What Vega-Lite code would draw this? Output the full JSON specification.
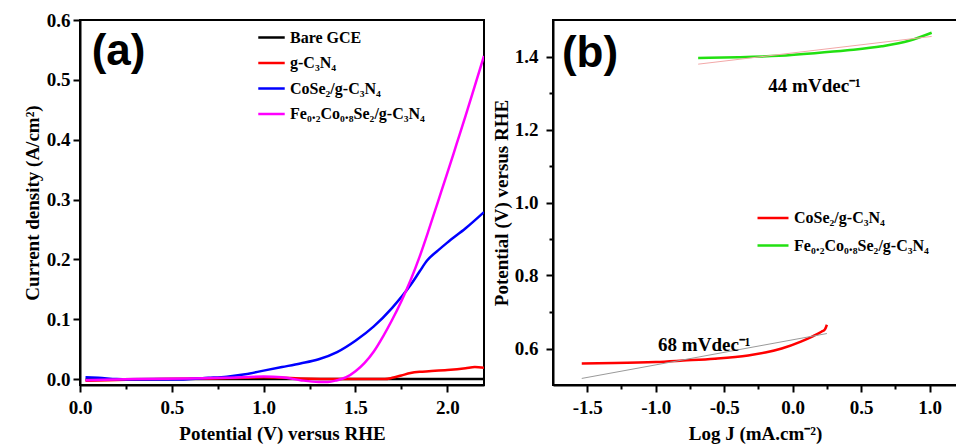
{
  "$schema": "https://vega.github.io/schema/vega-lite/v6.json",
  "background": "white",
  "padding": {"left": 22, "top": 10, "right": 0, "bottom": 4},
  "spacing": 6,
  "resolve": {"scale": {"color": "independent"}, "legend": {"color": "independent"}},
  "config": {
    "locale": {"number": {"decimal": ".", "thousands": ",", "grouping": [3], "currency": ["$", ""], "minus": "-"}},
    "view": {"stroke": "black", "strokeWidth": 2},
    "axis": {
      "grid": false, "domainColor": "black", "domainWidth": 2, "tickColor": "black", "tickWidth": 2,
      "labelFont": "Liberation Serif", "labelFontWeight": "bold", "labelFontSize": 19, "labelColor": "black",
      "labelFlush": false, "labelOverlap": false,
      "titleFont": "Liberation Serif", "titleFontWeight": "bold", "titleFontSize": 19, "titleColor": "black"
    },
    "legend": {
      "orient": "none", "title": null, "symbolType": "stroke", "symbolStrokeWidth": 2.5,
      "labelFont": "Liberation Serif", "labelFontWeight": "bold", "labelFontSize": 16, "labelColor": "black",
      "rowPadding": 2.5, "padding": 0, "labelOffset": 4
    }
  },
  "hconcat": [
    {
      "width": 404, "height": 365,
      "layer": [
        {
          "data": {"values": [
            {"V": 0.03, "J": -0.001, "sample": "Bare GCE"},
            {"V": 0.5, "J": 0.0, "sample": "Bare GCE"},
            {"V": 1.0, "J": 0.0, "sample": "Bare GCE"},
            {"V": 1.5, "J": 0.0, "sample": "Bare GCE"},
            {"V": 2.0, "J": 0.0, "sample": "Bare GCE"},
            {"V": 2.2, "J": 0.0, "sample": "Bare GCE"},
            {"V": 0.03, "J": -0.003, "sample": "g-C₃N₄"},
            {"V": 0.15, "J": -0.002, "sample": "g-C₃N₄"},
            {"V": 0.3, "J": -0.001, "sample": "g-C₃N₄"},
            {"V": 0.5, "J": 0.0, "sample": "g-C₃N₄"},
            {"V": 0.7, "J": 0.001, "sample": "g-C₃N₄"},
            {"V": 0.9, "J": 0.002, "sample": "g-C₃N₄"},
            {"V": 1.0, "J": 0.003, "sample": "g-C₃N₄"},
            {"V": 1.1, "J": 0.002, "sample": "g-C₃N₄"},
            {"V": 1.2, "J": 0.001, "sample": "g-C₃N₄"},
            {"V": 1.4, "J": 0.0, "sample": "g-C₃N₄"},
            {"V": 1.6, "J": 0.0, "sample": "g-C₃N₄"},
            {"V": 1.66, "J": 0.0, "sample": "g-C₃N₄"},
            {"V": 1.7, "J": 0.002, "sample": "g-C₃N₄"},
            {"V": 1.75, "J": 0.006, "sample": "g-C₃N₄"},
            {"V": 1.8, "J": 0.010, "sample": "g-C₃N₄"},
            {"V": 1.85, "J": 0.012, "sample": "g-C₃N₄"},
            {"V": 1.9, "J": 0.013, "sample": "g-C₃N₄"},
            {"V": 2.0, "J": 0.015, "sample": "g-C₃N₄"},
            {"V": 2.1, "J": 0.018, "sample": "g-C₃N₄"},
            {"V": 2.15, "J": 0.020, "sample": "g-C₃N₄"},
            {"V": 2.2, "J": 0.019, "sample": "g-C₃N₄"},
            {"V": 0.03, "J": 0.003, "sample": "CoSe₂/g-C₃N₄"},
            {"V": 0.1, "J": 0.002, "sample": "CoSe₂/g-C₃N₄"},
            {"V": 0.2, "J": 0.0, "sample": "CoSe₂/g-C₃N₄"},
            {"V": 0.3, "J": -0.001, "sample": "CoSe₂/g-C₃N₄"},
            {"V": 0.5, "J": -0.001, "sample": "CoSe₂/g-C₃N₄"},
            {"V": 0.7, "J": 0.002, "sample": "CoSe₂/g-C₃N₄"},
            {"V": 0.8, "J": 0.004, "sample": "CoSe₂/g-C₃N₄"},
            {"V": 0.9, "J": 0.008, "sample": "CoSe₂/g-C₃N₄"},
            {"V": 1.0, "J": 0.014, "sample": "CoSe₂/g-C₃N₄"},
            {"V": 1.1, "J": 0.020, "sample": "CoSe₂/g-C₃N₄"},
            {"V": 1.2, "J": 0.026, "sample": "CoSe₂/g-C₃N₄"},
            {"V": 1.3, "J": 0.033, "sample": "CoSe₂/g-C₃N₄"},
            {"V": 1.4, "J": 0.045, "sample": "CoSe₂/g-C₃N₄"},
            {"V": 1.5, "J": 0.064, "sample": "CoSe₂/g-C₃N₄"},
            {"V": 1.6, "J": 0.088, "sample": "CoSe₂/g-C₃N₄"},
            {"V": 1.7, "J": 0.119, "sample": "CoSe₂/g-C₃N₄"},
            {"V": 1.8, "J": 0.157, "sample": "CoSe₂/g-C₃N₄"},
            {"V": 1.85, "J": 0.180, "sample": "CoSe₂/g-C₃N₄"},
            {"V": 1.89, "J": 0.198, "sample": "CoSe₂/g-C₃N₄"},
            {"V": 1.95, "J": 0.215, "sample": "CoSe₂/g-C₃N₄"},
            {"V": 2.0, "J": 0.228, "sample": "CoSe₂/g-C₃N₄"},
            {"V": 2.1, "J": 0.252, "sample": "CoSe₂/g-C₃N₄"},
            {"V": 2.2, "J": 0.279, "sample": "CoSe₂/g-C₃N₄"},
            {"V": 0.03, "J": -0.002, "sample": "Fe₀.₂Co₀.₈Se₂/g-C₃N₄"},
            {"V": 0.3, "J": 0.0, "sample": "Fe₀.₂Co₀.₈Se₂/g-C₃N₄"},
            {"V": 0.6, "J": 0.001, "sample": "Fe₀.₂Co₀.₈Se₂/g-C₃N₄"},
            {"V": 0.8, "J": 0.002, "sample": "Fe₀.₂Co₀.₈Se₂/g-C₃N₄"},
            {"V": 1.0, "J": 0.004, "sample": "Fe₀.₂Co₀.₈Se₂/g-C₃N₄"},
            {"V": 1.1, "J": 0.003, "sample": "Fe₀.₂Co₀.₈Se₂/g-C₃N₄"},
            {"V": 1.2, "J": -0.002, "sample": "Fe₀.₂Co₀.₈Se₂/g-C₃N₄"},
            {"V": 1.3, "J": -0.005, "sample": "Fe₀.₂Co₀.₈Se₂/g-C₃N₄"},
            {"V": 1.35, "J": -0.005, "sample": "Fe₀.₂Co₀.₈Se₂/g-C₃N₄"},
            {"V": 1.4, "J": -0.002, "sample": "Fe₀.₂Co₀.₈Se₂/g-C₃N₄"},
            {"V": 1.45, "J": 0.003, "sample": "Fe₀.₂Co₀.₈Se₂/g-C₃N₄"},
            {"V": 1.5, "J": 0.013, "sample": "Fe₀.₂Co₀.₈Se₂/g-C₃N₄"},
            {"V": 1.55, "J": 0.027, "sample": "Fe₀.₂Co₀.₈Se₂/g-C₃N₄"},
            {"V": 1.6, "J": 0.046, "sample": "Fe₀.₂Co₀.₈Se₂/g-C₃N₄"},
            {"V": 1.65, "J": 0.071, "sample": "Fe₀.₂Co₀.₈Se₂/g-C₃N₄"},
            {"V": 1.7, "J": 0.099, "sample": "Fe₀.₂Co₀.₈Se₂/g-C₃N₄"},
            {"V": 1.75, "J": 0.130, "sample": "Fe₀.₂Co₀.₈Se₂/g-C₃N₄"},
            {"V": 1.8, "J": 0.165, "sample": "Fe₀.₂Co₀.₈Se₂/g-C₃N₄"},
            {"V": 1.85, "J": 0.205, "sample": "Fe₀.₂Co₀.₈Se₂/g-C₃N₄"},
            {"V": 1.9, "J": 0.250, "sample": "Fe₀.₂Co₀.₈Se₂/g-C₃N₄"},
            {"V": 1.95, "J": 0.297, "sample": "Fe₀.₂Co₀.₈Se₂/g-C₃N₄"},
            {"V": 2.0, "J": 0.344, "sample": "Fe₀.₂Co₀.₈Se₂/g-C₃N₄"},
            {"V": 2.05, "J": 0.392, "sample": "Fe₀.₂Co₀.₈Se₂/g-C₃N₄"},
            {"V": 2.1, "J": 0.440, "sample": "Fe₀.₂Co₀.₈Se₂/g-C₃N₄"},
            {"V": 2.15, "J": 0.490, "sample": "Fe₀.₂Co₀.₈Se₂/g-C₃N₄"},
            {"V": 2.2, "J": 0.540, "sample": "Fe₀.₂Co₀.₈Se₂/g-C₃N₄"}
          ]},
          "mark": {"type": "line", "strokeWidth": 2.5, "clip": true, "interpolate": "monotone"},
          "encoding": {
            "x": {"field": "V", "type": "quantitative", "scale": {"domain": [0, 2.2], "nice": false, "zero": false},
              "axis": {"title": "Potential (V) versus RHE",
                "values": [0, 0.25, 0.5, 0.75, 1, 1.25, 1.5, 1.75, 2],
                "labelExpr": "abs(datum.value*2-round(datum.value*2))<0.001 ? format(datum.value,'.1f') : ''",
                "tickSize": {"condition": {"test": "abs(datum.value*2-round(datum.value*2))<0.001", "value": 7}, "value": 4},
                "labelPadding": 6, "titlePadding": 7}},
            "y": {"field": "J", "type": "quantitative", "scale": {"domain": [-0.01, 0.6], "nice": false, "zero": false},
              "axis": {"title": "Current density (A/cm²)",
                "values": [0, 0.05, 0.1, 0.15, 0.2, 0.25, 0.3, 0.35, 0.4, 0.45, 0.5, 0.55, 0.6],
                "labelExpr": "abs(datum.value*10-round(datum.value*10))<0.001 ? format(datum.value,'.1f') : ''",
                "tickSize": {"condition": {"test": "abs(datum.value*10-round(datum.value*10))<0.001", "value": 7}, "value": 4},
                "labelPadding": 3, "titlePadding": 4}},
            "color": {"field": "sample", "type": "nominal",
              "scale": {"domain": ["Bare GCE", "g-C₃N₄", "CoSe₂/g-C₃N₄", "Fe₀.₂Co₀.₈Se₂/g-C₃N₄"],
                        "range": ["#000000", "#ff0000", "#0000ff", "#ff00ff"]},
              "legend": {"legendX": 177, "legendY": 3, "symbolSize": 700}}
          }
        },
        {
          "data": {"values": [{"V": 0.21, "J": 0.547, "label": "(a)"}]},
          "mark": {"type": "text", "font": "Liberation Sans", "fontWeight": "bold", "fontSize": 44, "align": "center", "baseline": "middle", "color": "black"},
          "encoding": {
            "x": {"field": "V", "type": "quantitative"},
            "y": {"field": "J", "type": "quantitative"},
            "text": {"field": "label"}
          }
        }
      ]
    },
    {
      "width": 404, "height": 365,
      "layer": [
        {
          "data": {"values": [
            {"L": -1.54, "E": 0.559, "catalyst": "CoSe₂/g-C₃N₄"},
            {"L": -1.3, "E": 0.560, "catalyst": "CoSe₂/g-C₃N₄"},
            {"L": -1.0, "E": 0.563, "catalyst": "CoSe₂/g-C₃N₄"},
            {"L": -0.8, "E": 0.567, "catalyst": "CoSe₂/g-C₃N₄"},
            {"L": -0.57, "E": 0.572, "catalyst": "CoSe₂/g-C₃N₄"},
            {"L": -0.325, "E": 0.581, "catalyst": "CoSe₂/g-C₃N₄"},
            {"L": -0.2, "E": 0.589, "catalyst": "CoSe₂/g-C₃N₄"},
            {"L": -0.08, "E": 0.600, "catalyst": "CoSe₂/g-C₃N₄"},
            {"L": 0.06, "E": 0.619, "catalyst": "CoSe₂/g-C₃N₄"},
            {"L": 0.15, "E": 0.634, "catalyst": "CoSe₂/g-C₃N₄"},
            {"L": 0.21, "E": 0.646, "catalyst": "CoSe₂/g-C₃N₄"},
            {"L": 0.235, "E": 0.652, "catalyst": "CoSe₂/g-C₃N₄"},
            {"L": 0.25, "E": 0.665, "catalyst": "CoSe₂/g-C₃N₄"},
            {"L": -0.69, "E": 1.396, "catalyst": "Fe₀.₂Co₀.₈Se₂/g-C₃N₄"},
            {"L": -0.4, "E": 1.398, "catalyst": "Fe₀.₂Co₀.₈Se₂/g-C₃N₄"},
            {"L": -0.1, "E": 1.402, "catalyst": "Fe₀.₂Co₀.₈Se₂/g-C₃N₄"},
            {"L": 0.16, "E": 1.409, "catalyst": "Fe₀.₂Co₀.₈Se₂/g-C₃N₄"},
            {"L": 0.4, "E": 1.417, "catalyst": "Fe₀.₂Co₀.₈Se₂/g-C₃N₄"},
            {"L": 0.65, "E": 1.428, "catalyst": "Fe₀.₂Co₀.₈Se₂/g-C₃N₄"},
            {"L": 0.85, "E": 1.443, "catalyst": "Fe₀.₂Co₀.₈Se₂/g-C₃N₄"},
            {"L": 1.015, "E": 1.465, "catalyst": "Fe₀.₂Co₀.₈Se₂/g-C₃N₄"}
          ]},
          "mark": {"type": "line", "strokeWidth": 2.5, "clip": true, "interpolate": "monotone"},
          "encoding": {
            "x": {"field": "L", "type": "quantitative", "scale": {"domain": [-1.75, 1.2], "nice": false, "zero": false},
              "axis": {"title": "Log J (mA.cm⁻²)",
                "values": [-1.5, -1.25, -1, -0.75, -0.5, -0.25, 0, 0.25, 0.5, 0.75, 1],
                "labelExpr": "abs(datum.value*2-round(datum.value*2))<0.001 ? format(datum.value,'.1f') : ''",
                "tickSize": {"condition": {"test": "abs(datum.value*2-round(datum.value*2))<0.001", "value": 7}, "value": 4},
                "labelPadding": 6, "titlePadding": 7}},
            "y": {"field": "E", "type": "quantitative", "scale": {"domain": [0.5, 1.5], "nice": false, "zero": false},
              "axis": {"title": "Potential (V) versus RHE",
                "values": [0.6, 0.7, 0.8, 0.9, 1.0, 1.1, 1.2, 1.3, 1.4],
                "labelExpr": "abs(datum.value*5-round(datum.value*5))<0.001 ? format(datum.value,'.1f') : ''",
                "tickSize": {"condition": {"test": "abs(datum.value*5-round(datum.value*5))<0.001", "value": 7}, "value": 4},
                "labelPadding": 8, "titlePadding": 3}},
            "color": {"field": "catalyst", "type": "nominal",
              "scale": {"domain": ["CoSe₂/g-C₃N₄", "Fe₀.₂Co₀.₈Se₂/g-C₃N₄"], "range": ["#ff0000", "#22e011"]},
              "legend": {"legendX": 203, "legendY": 181, "symbolSize": 960}}
          }
        },
        {
          "data": {"values": [{"L": -1.54, "E": 0.518}, {"L": 0.25, "E": 0.641}]},
          "mark": {"type": "line", "strokeWidth": 1, "color": "#9a9a9a", "clip": true},
          "encoding": {"x": {"field": "L", "type": "quantitative"}, "y": {"field": "E", "type": "quantitative"}}
        },
        {
          "data": {"values": [{"L": -0.69, "E": 1.379}, {"L": 1.015, "E": 1.455}]},
          "mark": {"type": "line", "strokeWidth": 1, "color": "#f2a8a8", "clip": true},
          "encoding": {"x": {"field": "L", "type": "quantitative"}, "y": {"field": "E", "type": "quantitative"}}
        },
        {
          "data": {"values": [{"L": -1.48, "E": 1.408, "label": "(b)"}]},
          "mark": {"type": "text", "font": "Liberation Sans", "fontWeight": "bold", "fontSize": 44, "align": "center", "baseline": "middle", "color": "black"},
          "encoding": {
            "x": {"field": "L", "type": "quantitative"},
            "y": {"field": "E", "type": "quantitative"},
            "text": {"field": "label"}
          }
        },
        {
          "data": {"values": [
            {"L": 0.16, "E": 1.318, "label": "44 mVdec⁻¹"},
            {"L": -0.645, "E": 0.609, "label": "68 mVdec⁻¹"}
          ]},
          "mark": {"type": "text", "font": "Liberation Serif", "fontWeight": "bold", "fontSize": 19, "align": "center", "baseline": "middle", "color": "black"},
          "encoding": {
            "x": {"field": "L", "type": "quantitative"},
            "y": {"field": "E", "type": "quantitative"},
            "text": {"field": "label"}
          }
        }
      ]
    }
  ]
}
